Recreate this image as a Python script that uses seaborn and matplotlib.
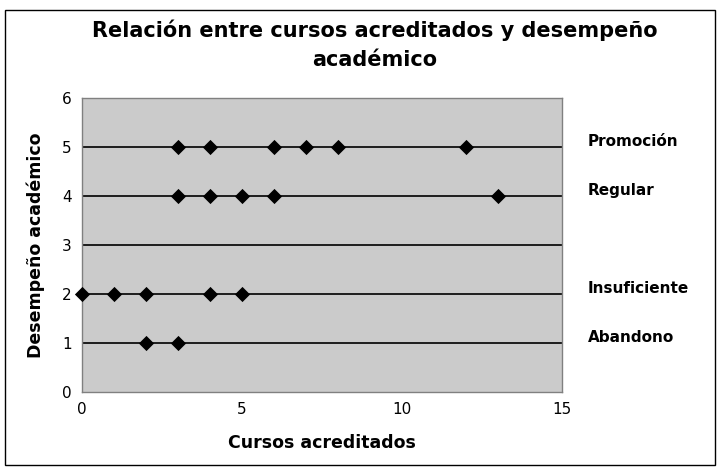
import matplotlib
matplotlib.use("Agg")
import matplotlib.pyplot as plt
import numpy as np
import pandas as pd
import seaborn as sns
from matplotlib.patches import Rectangle

sns.set_style("white")
plt.rcParams.update({'font.family': ['DejaVu Sans'],
                     'text.color': 'black',
                     'axes.labelcolor': 'black',
                     'xtick.labelcolor': 'black',
                     'ytick.labelcolor': 'black'})

# data
cursos = [3, 4, 6, 7, 8, 12,
          3, 4, 5, 6, 13,
          0, 1, 2, 4, 5,
          2, 3]
desempeno = [5, 5, 5, 5, 5, 5,
             4, 4, 4, 4, 4,
             2, 2, 2, 2, 2,
             1, 1]
niveles = ["Promoción", "Regular", "Insuficiente", "Abandono"]
niveles_y = [5, 4, 2, 1]

df = pd.DataFrame({'cursos': cursos, 'desempeno': desempeno})

fig = plt.figure(figsize=(7.17, 4.68), dpi=100)
ax = fig.add_axes([0.1144, 0.1624, 0.6695, 0.628])
ax.set_facecolor('#cbcbcb')

for yy in range(1, 6):
    ax.axhline(yy, color='black', lw=1.2, zorder=1)

sns.scatterplot(data=df, x='cursos', y='desempeno', ax=ax, marker='D',
                s=60, color='black', edgecolor='black', linewidth=0,
                zorder=3, clip_on=False)

ax.set_xlim(0, 15)
ax.set_ylim(0, 6)
ax.set_xticks([0, 5, 10, 15])
ax.set_yticks(range(0, 7))
ax.tick_params(axis='both', labelsize=11, length=4, color='#808080', direction='out')
for sp in ax.spines.values():
    sp.set_color('#808080')
    sp.set_linewidth(1.0)

ax.set_xlabel("Cursos acreditados", fontsize=12.5, fontweight='bold', labelpad=12)
ax.set_ylabel("Desempeño académico", fontsize=12.5, fontweight='bold', labelpad=12)

for lab, yv in zip(niveles, niveles_y):
    ax.text(15.8, yv + 0.12, lab, fontsize=11, fontweight='bold',
            ha='left', va='center', clip_on=False)

fig.text(0.523, 0.904, "Relación entre cursos acreditados y desempeño\nacadémico",
         ha='center', va='center', fontsize=15, fontweight='bold', linespacing=1.55)

fig.patches.append(Rectangle((5 / 717, 3 / 468), 710 / 717, 455 / 468,
                             transform=fig.transFigure, fill=False,
                             edgecolor='black', lw=1.0))

fig.savefig('out.png', dpi=100)
